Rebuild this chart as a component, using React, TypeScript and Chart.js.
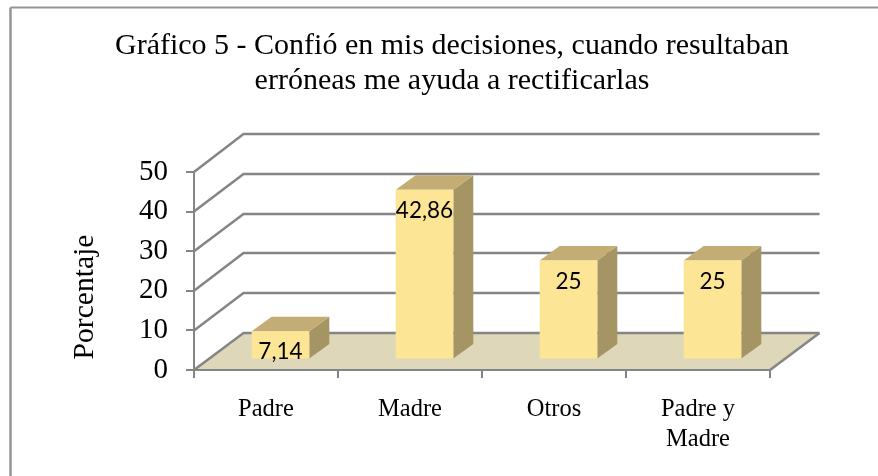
import React, { useEffect, useRef } from "react";
import { Chart, registerables } from "chart.js";

Chart.register(...registerables);

const categories: (string | string[])[] = ["Padre", "Madre", "Otros", ["Padre y", "Madre"]];
const values = [7.14, 42.86, 25, 25];
const valueLabels = ["7,14", "42,86", "25", "25"];
const yTicks = [0, 10, 20, 30, 40, 50];
const titleLines = [
  "Gráfico 5 - Confió en mis decisiones, cuando resultaban",
  "erróneas me ayuda a rectificarlas",
];
const yTitle = "Porcentaje";

const SERIF = "'Liberation Serif', serif";
const GRID = "#858585";
const WALL_DX = 49.5;
const WALL_DY = -37.5;
const BAR_DX = 14.5;
const BAR_DY = -10.5;
const SIDE_DX = 20;
const SIDE_DY = -14.5;

const threeD = {
  id: "threeD",
  afterLayout(chart: any) {
    // the title is centred on its own span, not on the plot
    chart.titleBlock.left = 26;
    chart.titleBlock.right = 878;
  },
  beforeDraw(chart: any) {
    const { ctx, width, height, chartArea: a, scales } = chart;
    const y = scales.y;
    ctx.save();
    ctx.fillStyle = "#ffffff";
    ctx.fillRect(0, 0, width, height);
    // frame: only the top and left edges fall inside the picture
    ctx.strokeStyle = "#949494";
    ctx.lineWidth = 2.5;
    ctx.beginPath();
    ctx.moveTo(10.5, height);
    ctx.lineTo(10.5, 7.5);
    ctx.stroke();
    ctx.lineWidth = 2;
    ctx.beginPath();
    ctx.moveTo(10.5, 7.5);
    ctx.lineTo(width, 7.5);
    ctx.stroke();
    // floor
    const y0 = y.getPixelForValue(0);
    ctx.fillStyle = "#dfd7b9";
    ctx.beginPath();
    ctx.moveTo(a.left, y0);
    ctx.lineTo(a.left + WALL_DX, Math.round(y0 + WALL_DY));
    ctx.lineTo(a.right + WALL_DX, Math.round(y0 + WALL_DY));
    ctx.lineTo(a.right, y0);
    ctx.closePath();
    ctx.fill();
    // side wall and back wall grid
    ctx.strokeStyle = GRID;
    ctx.lineWidth = 2.5;
    yTicks.forEach((t) => {
      const py = y.getPixelForValue(t);
      const back = Math.round(py + WALL_DY);
      ctx.beginPath();
      ctx.moveTo(a.left, py);
      ctx.lineTo(a.left + WALL_DX, back);
      ctx.lineTo(a.right + WALL_DX, back);
      ctx.stroke();
    });
    ctx.beginPath();
    ctx.moveTo(a.right, y0);
    ctx.lineTo(a.right + WALL_DX, Math.round(y0 + WALL_DY));
    ctx.stroke();
    ctx.restore();
  },
  beforeDatasetDraw(chart: any) {
    const { ctx } = chart;
    ctx.save();
    ctx.translate(BAR_DX, BAR_DY);
    chart.getDatasetMeta(0).data.forEach((el: any) => {
      const l = el.x - el.width / 2;
      const r = el.x + el.width / 2;
      ctx.fillStyle = "#a59564";
      ctx.beginPath();
      ctx.moveTo(r, el.y);
      ctx.lineTo(r + SIDE_DX, el.y + SIDE_DY);
      ctx.lineTo(r + SIDE_DX, el.base + SIDE_DY);
      ctx.lineTo(r, el.base);
      ctx.closePath();
      ctx.fill();
      ctx.fillStyle = "#c3ad75";
      ctx.beginPath();
      ctx.moveTo(l, el.y);
      ctx.lineTo(l + SIDE_DX, el.y + SIDE_DY);
      ctx.lineTo(r + SIDE_DX, el.y + SIDE_DY);
      ctx.lineTo(r, el.y);
      ctx.closePath();
      ctx.fill();
    });
  },
  afterDatasetDraw(chart: any) {
    chart.ctx.restore();
  },
  afterDatasetsDraw(chart: any) {
    const { ctx } = chart;
    ctx.save();
    ctx.fillStyle = "#000000";
    ctx.textAlign = "center";
    ctx.textBaseline = "middle";
    ctx.font = "22.5px Lato";
    chart.getDatasetMeta(0).data.forEach((el: any, i: number) => {
      ctx.fillText(valueLabels[i], el.x + BAR_DX, el.y + BAR_DY + 21);
    });
    ctx.translate(93, 297);
    ctx.rotate(-Math.PI / 2);
    ctx.textBaseline = "alphabetic";
    ctx.font = `29.6px ${SERIF}`;
    ctx.fillText(yTitle, 0, 0);
    ctx.restore();
  },
};

export default function App() {
  const ref = useRef<HTMLCanvasElement>(null);
  useEffect(() => {
    const chart = new Chart(ref.current!, {
      type: "bar",
      data: {
        labels: categories as any,
        datasets: [
          {
            data: values,
            backgroundColor: "#fde596",
            categoryPercentage: 0.4,
            barPercentage: 1,
          },
        ],
      },
      plugins: [threeD],
      options: {
        animation: false,
        responsive: false,
        layout: { padding: { left: 40, right: 108, top: 28, bottom: 0 } },
        plugins: {
          legend: { display: false },
          tooltip: { enabled: false },
          title: {
            display: true,
            text: titleLines,
            color: "#000000",
            font: { family: SERIF, size: 30, weight: "normal", lineHeight: 1.183 },
            padding: { top: 0, bottom: 73 },
          },
        },
        scales: {
          x: {
            grid: {
              drawOnChartArea: false,
              drawTicks: true,
              tickLength: 8,
              color: GRID,
              lineWidth: 2,
            },
            border: { color: GRID, width: 2 },
            ticks: {
              color: "#000000",
              font: { family: SERIF, size: 24.5, lineHeight: 1.2 },
              padding: 17,
              maxRotation: 0,
              autoSkip: false,
            },
            afterFit: (s: any) => {
              s.height = 106;
            },
          },
          y: {
            min: 0,
            max: 50,
            afterBuildTicks: (s: any) => {
              s.ticks = yTicks.map((value) => ({ value }));
            },
            grid: {
              drawOnChartArea: false,
              drawTicks: true,
              tickLength: 8,
              color: GRID,
              lineWidth: 2,
            },
            border: { color: GRID, width: 2 },
            ticks: {
              color: "#000000",
              font: { family: SERIF, size: 29 },
              padding: 18,
            },
            afterFit: (s: any) => {
              s.width = 154;
            },
          },
        },
      },
    } as any);
    return () => chart.destroy();
  }, []);
  return (
    <div style={{ position: "absolute", left: 0, top: 0, width: 878, height: 476 }}>
      <canvas ref={ref} width={878} height={476} style={{ display: "block" }} />
    </div>
  );
}
